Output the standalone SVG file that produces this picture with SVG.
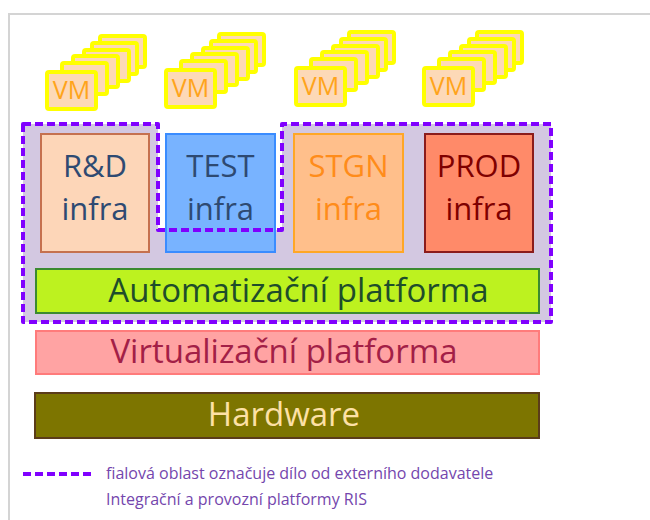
<svg xmlns="http://www.w3.org/2000/svg" width="650" height="520" viewBox="0 0 650 520">
  <defs>
    <style>
      text { font-family: "Open Sans", "Noto Sans", "DejaVu Sans", sans-serif; }
      .frame { fill: #ffffff; stroke: #d4d4d4; stroke-width: 2; }
      .vm { fill: #fdd9b7; stroke: #ffff00; stroke-width: 4; }
      .vm-front { fill: #fdd9b7; stroke: #ffff00; stroke-width: 4; }
      .vm-label { fill: #ffa41b; font-size: 25px; text-anchor: middle; }
      .area-fill { fill: #d3c8e1; stroke: none; }
      .area-line { fill: none; stroke: #8000ff; stroke-width: 4; stroke-dasharray: 8 4; stroke-linejoin: round; }
      .big { font-size: 31px; text-anchor: middle; }
      .layer { font-size: 33px; text-anchor: middle; }
      .legend { fill: #7446ad; font-size: 16px; }
    </style>
    <!-- one stack of virtual machines: five boxes behind one labelled front box -->
    <g id="vmstack">
      <rect class="vm" x="55" y="-34" width="45" height="31" rx="2"/>
      <rect class="vm" x="47" y="-27" width="45" height="31" rx="2"/>
      <rect class="vm" x="39" y="-20" width="45" height="31" rx="2"/>
      <rect class="vm" x="28" y="-14" width="45" height="31" rx="2"/>
      <rect class="vm" x="17" y="-7" width="45" height="31" rx="2"/>
      <rect class="vm-front" x="2" y="2" width="49" height="37" rx="2"/>
      <text class="vm-label" x="26.5" y="29">VM</text>
    </g>
  </defs>

  <!-- page frame -->
  <rect class="frame" x="9" y="14" width="700" height="600"/>

  <!-- VM stacks -->
  <g id="vm-rd"><use href="#vmstack" x="45" y="70"/></g>
  <g id="vm-test"><use href="#vmstack" x="164" y="68"/></g>
  <g id="vm-stgn"><use href="#vmstack" x="294" y="66"/></g>
  <g id="vm-prod"><use href="#vmstack" x="422" y="66"/></g>

  <!-- external supplier area (fill) -->
  <path id="area-fill" class="area-fill" d="M23,124 H158 V230 H282 V124 H551 V322 H23 Z"/>

  <!-- environments -->
  <g id="rd-infra">
    <rect x="41" y="134" width="108" height="118" fill="#fdd6b8" stroke="#c5714f" stroke-width="2"/>
    <text class="big" x="95" y="177" fill="#2e4a72">R&amp;D</text>
    <text class="big" x="95" y="220" fill="#2e4a72">infra</text>
  </g>
  <g id="test-infra">
    <rect x="166" y="134" width="109" height="118" fill="#78b3ff" stroke="#3a8cff" stroke-width="2"/>
    <text class="big" x="220.5" y="177" fill="#2e4a72">TEST</text>
    <text class="big" x="220.5" y="220" fill="#2e4a72">infra</text>
  </g>
  <g id="stgn-infra">
    <rect x="294" y="134" width="109" height="118" fill="#ffbf8b" stroke="#ffa726" stroke-width="2"/>
    <text class="big" x="348.5" y="177" fill="#ff8c1a">STGN</text>
    <text class="big" x="348.5" y="220" fill="#ff8c1a">infra</text>
  </g>
  <g id="prod-infra">
    <rect x="425" y="134" width="108" height="118" fill="#ff8a69" stroke="#8b1c1c" stroke-width="2"/>
    <text class="big" x="479" y="177" fill="#7f0000">PROD</text>
    <text class="big" x="479" y="220" fill="#7f0000">infra</text>
  </g>

  <!-- platform layers -->
  <g id="automation">
    <rect x="36" y="269" width="503" height="44" fill="#bdf21f" stroke="#3b8a30" stroke-width="2"/>
    <text class="layer" x="298.5" y="302" fill="#1e4d2b">Automatizační platforma</text>
  </g>
  <g id="virtualization">
    <rect x="36" y="331" width="503" height="43" fill="#ffa3a3" stroke="#ff7b7b" stroke-width="2"/>
    <text class="layer" x="284" y="363" fill="#a31f47">Virtualizační platforma</text>
  </g>
  <g id="hardware">
    <rect x="35" y="393" width="504" height="45" fill="#7d7500" stroke="#5b3c19" stroke-width="2"/>
    <text class="layer" x="284" y="426" fill="#fde1a6">Hardware</text>
  </g>

  <!-- external supplier area (outline, above the boxes) -->
  <g id="connectors">
    <path class="area-line" d="M23,124 H158 V230 H282 V124 H551 V322 H23 Z"/>
  </g>

  <!-- legend -->
  <g id="legend">
    <line class="area-line" x1="23" y1="474" x2="93" y2="474"/>
    <text class="legend" x="106" y="479">fialová oblast označuje dílo od externího dodavatele</text>
    <text class="legend" x="106" y="505">Integrační a provozní platformy RIS</text>
  </g>
</svg>
